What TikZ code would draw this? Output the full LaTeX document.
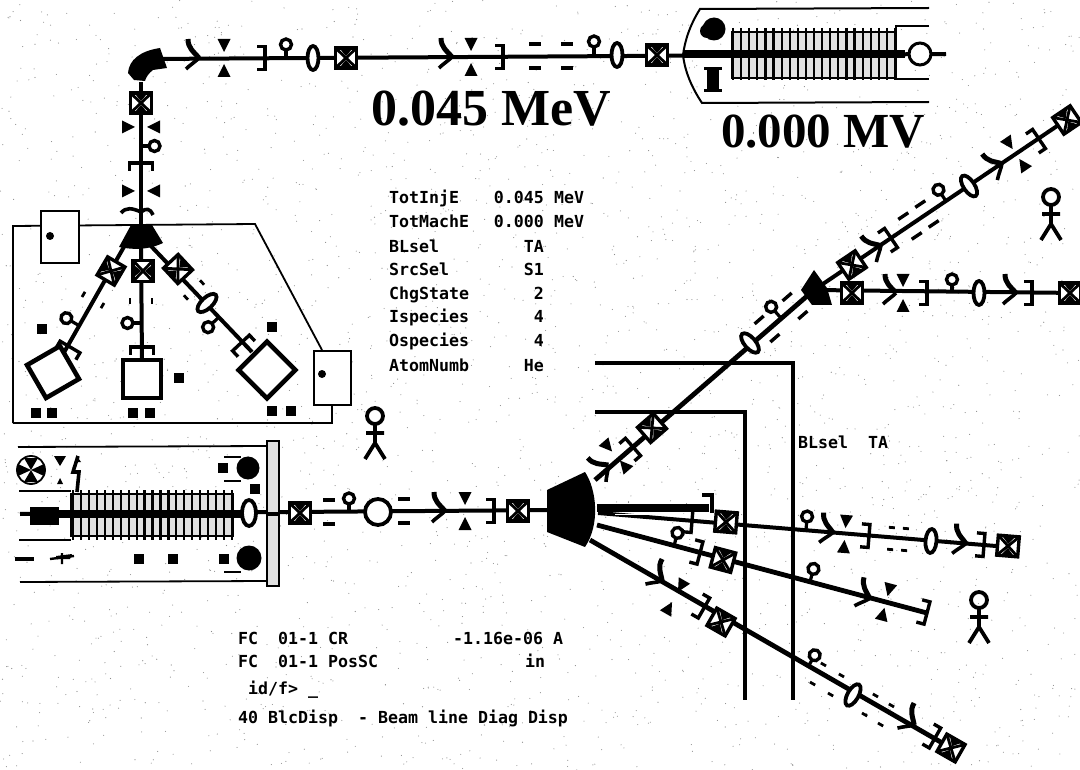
\documentclass[tikz,border=0pt]{standalone}
\usepackage{fontspec}
\setmainfont{Liberation Serif}
\newfontfamily\termfont{DejaVu Sans Mono}
\tikzset{
  beam/.style={line width=4pt},
  wide/.style={line width=4.8pt},
  term/.style={font=\termfont\bfseries\fontsize{16.6}{18}\selectfont,inner sep=0pt},
  big/.style={font=\fontsize{#1}{#1}\selectfont\bfseries,inner sep=0pt},
  pics/xboxp/.style={code={
    \draw[line width=3.4pt,fill=white] (-10.5,-10) rectangle (10.5,10);
    \draw[line width=2.8pt] (-10.5,-10)--(10.5,10) (-10.5,10)--(10.5,-10);
    \fill (-6,-9) -- (6,-9) -- (0,-2) -- cycle;
    \fill (-6,9) -- (6,9) -- (0,2) -- cycle;}},
  pics/lensp/.style={code={
    \draw[line width=3.8pt,fill=white] (0,0) ellipse [x radius=5.5,y radius=12];}},
  pics/fcp/.style={code={
    \draw[line width=3.2pt] (0,0)--(0,-9);
    \draw[line width=3.4pt,fill=white] (0,-13.5) circle [radius=5.5];}},
  pics/slitp/.style={code={
    \draw[line width=3.4pt] (-8,-11.5)--(0,-11.5)--(0,11.5)--(-8,11.5);}},
  pics/steerp/.style={code={
    \draw[line width=5pt] (-5,-19) .. controls (-5,-10) and (0,-7) .. (6,0);
    \draw[line width=3.6pt] (6,0) .. controls (2,4) and (-3,7) .. (-7,11);}},
  pics/trip/.style={code={
    \fill (-6.5,-19)--(6.5,-19)--(0,-6)--cycle;
    \fill (-6.5,19)--(6.5,19)--(0,6)--cycle;}},
  pics/dashp/.style={code={
    \draw[line width=3.4pt] (-6,-12)--(6,-12) (-6,12)--(6,12);}},
  pics/dashq/.style={code={
    \draw[line width=2.8pt] (-3,-11)--(3,-11) (-3,11)--(3,11);}},
  pics/figp/.style={code={
    \draw[line width=3.8pt] (0,0) circle [radius=8];
    \draw[line width=3.8pt] (0,8)--(0,27) (-9,17)--(9,17) (-10,43)--(0,27)--(10,43);}},
  sq/.style={fill=black,minimum size=9.5pt,inner sep=0pt},
  grainy/.style={fill=black!12},
}
\begin{document}
\begin{tikzpicture}[x=1pt,y=-1pt]
\useasboundingbox (0,0) rectangle (1080,770);
\fill[white] (0,0) rectangle (1080,770);
% paper grain
\pgfmathsetseed{11}
\foreach \i in {1,...,2600}{\fill[black!45] ({1080*rnd},{770*rnd}) circle [radius=0.55];}

% ---------- thick lines behind the fan
\coordinate (hA) at (595,363); \coordinate (hB) at (793,363); \coordinate (hC) at (793,700);
\coordinate (iA) at (595,412); \coordinate (iB) at (745,412); \coordinate (iC) at (745,700);
\draw[wide,line join=miter] (hA)--(hB)--(hC);
\draw[wide,line join=miter] (iA)--(iB)--(iC);

% ---------- top beam line
\coordinate (t0) at (150,59); \coordinate (t1) at (946,54);
\draw[beam] (t0)--(t1);
\pic at (193,58) {steerp};
\pic at (224,58) {trip};
\pic at (265,58) {slitp};
\pic at (286,58) {fcp};
\pic at (313,58) {lensp};
\pic at (346,58) {xboxp};
\pic at (446,57) {steerp};
\pic at (471,57) {trip};
\pic at (503,57) {slitp};
\pic at (535,56) {dashp};
\pic at (567,56) {dashp};
\pic at (594,55) {fcp};
\pic at (617,55) {lensp};
\pic at (657,55) {xboxp};

% ---------- top accelerator
\draw[line width=2pt] (929,8)--(700,9) .. controls (690,25) and (685,40) .. (683,55) .. controls (685,72) and (692,88) .. (702,103)--(929,102);
\draw[line width=1.8pt] (929,26)--(896,26)--(896,79)--(929,79);
\draw[line width=2pt,grainy] (732,32) rectangle (895,78);
\foreach \k in {0,...,20}{\draw[line width=2.2pt] ({733+8.1*\k},28)--({733+8.1*\k},80);}
\draw[line width=7.5pt] (683,54)--(905,54);
\fill (714,29) circle [radius=11.5];
\fill (707,31) circle [radius=7];
\draw[line width=3pt,fill=white] (920,54) circle [radius=11];
\fill (704,67) rectangle (722,70);
\fill (707,69) rectangle (719,90);
\fill (704,89) rectangle (722,92);
\node[big=52,anchor=base west] (vmev) at (371,126) {0.045 MeV};
\node[big=49,anchor=base west] (vmv) at (721,148) {0.000 MV};

% ---------- bending magnet and vertical line
\coordinate (bendS) at (141,82);
\coordinate (forkN) at (141,228);
\draw[beam] (bendS)--(forkN);
\fill (128,73) .. controls (129,60) and (140,51) .. (160,48) -- (167,68) -- (153,70) .. controls (149,73) and (146,77) .. (145,81) -- (134,80) -- cycle;
\pic at (141,103) {xboxp};
\pic[rotate=-90] at (141,127) {trip};
\pic[rotate=-90] at (141,146) {fcp};
\pic[rotate=90] at (141,163) {slitp};
\pic[rotate=-90] at (141,191) {trip};
\draw[line width=3.6pt] (121,213) .. controls (126,207) and (132,208) .. (141,212);
\draw[line width=3.6pt] (141,212) .. controls (146,208) and (150,208) .. (153,215);

% ---------- source deck
\draw[line width=1.8pt] (13,423)--(13,226)--(255,224)--(322,350);
\draw[line width=1.8pt] (13,423)--(332,423)--(332,405);
\draw[line width=2.2pt,fill=white] (41,211) rectangle (79,263);
\fill (50,236) circle [radius=4];
\draw[line width=2.2pt,fill=white] (314,351) rectangle (351,405);
\fill (322,374) circle [radius=4];

% branches
\coordinate (lA) at (125,245); \coordinate (lB) at (62,356);
\coordinate (cA) at (141,245); \coordinate (cB) at (142,362);
\coordinate (rA) at (150,245); \coordinate (rB) at (252,352);
\draw[beam] (lA)--(lB);
\draw[beam] (cA)--(cB);
\draw[beam] (rA)--(rB);
\fill (131,225)--(152,225)--(163,243) .. controls (148,250) and (134,250) .. (119,247) --cycle;
\pic[rotate=59.6] at (111,271) {xboxp};
\pic[rotate=90] at (143,271) {xboxp};
\pic[rotate=-47] at (178,269) {xboxp};
\pic[rotate=59.6] at (93,300) {dashq};
\pic[rotate=90] at (141,301) {dashq};
\pic[rotate=-47] at (194,290) {dashq};
\pic[rotate=59.6] at (78,325) {fcp};
\pic[rotate=90] at (141,323) {fcp};
\pic[rotate=133] at (218,318) {fcp};
\pic[rotate=-47] at (207,303) {lensp};
\pic[rotate=59.6] at (70,347) {slitp};
\pic[rotate=90] at (142,347) {slitp};
\pic[rotate=133] at (241,343) {slitp};
\draw[line width=4.6pt,fill=white,rotate around={30:(53,372)}] (34,353) rectangle (72,391);
\draw[line width=3.4pt,fill=white] (123,360) rectangle (161,398);
\draw[line width=4.6pt,fill=white,rotate around={45:(267,370)}] (247,350) rectangle (287,390);
\foreach \p/\q in {42/329,272/327,179/378,36/413,52/413,133/413,150/413,272/411,291/411}{
  \node[sq] at (\p,\q) {};}

% people
\pic at (375,416) {figp};
\pic at (1051,197) {figp};
\pic at (979,600) {figp};

% ---------- parameter table
\foreach \n/\t/\v/\u/\yy in {
 a/TotInjE/0.045/MeV/204,
 b/TotMachE/0.000/MeV/228,
 c/BLsel/TA//253,
 d/SrcSel/S1//276,
 e/ChgState/2//300,
 f/Ispecies/4//323,
 g/Ospecies/4//347,
 h/AtomNumb/He//371}{
  \node[term,anchor=base west] (lab\n) at (389,\yy) {\t};
  \node[term,anchor=base east] (val\n) at (544,\yy) {\v};
  \node[term,anchor=base west] (uni\n) at (554,\yy) {\u};
}
\node[term,anchor=base west] (blsel) at (798,448) {BLsel~~TA};

% ---------- lower-left accelerator
\draw[line width=1.8pt] (18,447)--(268,446);
\draw[line width=1.8pt] (20,582)--(268,581);
\draw[line width=1.6pt] (19,491)--(71,491) (19,540)--(71,540);
\coordinate (b0) at (20,514); \coordinate (b1) at (560,510);
\draw[line width=2pt,grainy] (71,494) rectangle (233,536);
\foreach \k in {0,...,20}{\draw[line width=2.2pt] ({73+7.95*\k},490)--({73+7.95*\k},540);}
\draw[line width=8pt] (30,514)--(250,514);
\draw[beam] (b0)--(b1);
\fill (30,507) rectangle (59,525);
\draw[line width=2.2pt,grainy] (267,441) rectangle (279,586);
\draw[line width=4pt] (267,514)--(279,514);
\draw[line width=3.8pt,fill=white] (249,513) ellipse [x radius=7,y radius=13];
% fan
\draw[line width=1.8pt] (31,470) circle [radius=14];
\fill (31,470)--(24,458)--(38,458)--cycle (31,470)--(24,482)--(38,482)--cycle;
\fill (31,470)--(18,464)--(18,476)--cycle (31,470)--(44,464)--(44,476)--cycle;
\fill (54,456)--(66,456)--(60,466)--cycle;
\fill (57,484)--(63,484)--(60,478)--cycle;
\draw[line width=3.6pt] (78,456)--(73,472)--(79,472)--(77,492);
\fill (76,455)--(81,462)--(76,462)--cycle;
\fill (248,468) circle [radius=11.5];
\fill (249,558) circle [radius=12.5];
\foreach \p/\q in {223/468,255/489,139/559,173/559,224/559}{\node[sq] at (\p,\q) {};}
\draw[line width=1.2pt] (224,457)--(241,457) (224,481)--(241,481) (224,572)--(241,572);
\draw[line width=4pt] (15,559)--(34,559);
\draw[line width=2.4pt] (50,559)--(74,556) (62,553)--(62,564);
\fill (56,556)--(72,554)--(70,559)--(56,559)--cycle;

\pic at (300,513) {xboxp};
\pic at (329,512) {dashp};
\pic at (349,512) {fcp};
\draw[line width=3.8pt,fill=white] (378,512) circle [radius=13];
\pic at (404,511) {dashp};
\pic at (439,511) {steerp};
\pic at (465,511) {trip};
\pic at (494,511) {slitp};
\pic at (518,511) {xboxp};

% ---------- switching magnet and fan of lines
\coordinate (uA) at (595,480); \coordinate (uB) at (814,290);
\coordinate (uC) at (1066,120); \coordinate (uD) at (1078,293);
\coordinate (pA) at (597,508); \coordinate (pB) at (709,508);
\coordinate (qA) at (598,513); \coordinate (qB) at (1008,547);
\coordinate (sA) at (597,525); \coordinate (sB) at (927,613);
\coordinate (wA) at (590,540); \coordinate (wB) at (951,748);
\draw[wide] (uA)--(uB);
\draw[beam] (uB)--(uC);
\draw[beam] (uB)--(uD);
\draw[line width=8pt] (pA)--(pB);
\draw[beam] (qA)--(qB);
\draw[wide] (sA)--(sB);
\draw[wide] (wA)--(wB);
\fill (547,490)--(585,472) .. controls (597,490) and (600,525) .. (585,547) -- (547,532) -- cycle;

% rising line
\pic[rotate=41] at (604,469) {steerp};
\pic[rotate=41] at (616,456) {trip};
\pic[rotate=41] at (633,447) {slitp};
\pic[rotate=41] at (652,428) {xboxp};
\pic[rotate=41] at (750,343) {lensp};
\pic[rotate=41] at (767,329) {dashp};
\pic[rotate=41] at (780,317) {fcp};
\pic[rotate=41] at (795,306) {dashp};

% upper magnet
\fill (814,270)--(801,290)--(812,305)--(832,305)--(827,288)--cycle;

% branch A
\pic[rotate=34] at (852,265) {xboxp};
\pic[rotate=34] at (876,249) {steerp};
\pic[rotate=34] at (891,238) {slitp};
\pic[rotate=34] at (910,226) {dashp};
\pic[rotate=34] at (927,214) {dashp};
\pic[rotate=34] at (946,201) {fcp};
\pic[rotate=34] at (969,186) {lensp};
\pic[rotate=34] at (997,167) {steerp};
\pic[rotate=34] at (1016,154) {trip};
\pic[rotate=34] at (1039,139) {slitp};
\pic[rotate=34] at (1067,120) {xboxp};

% branch B
\pic at (852,293) {xboxp};
\pic at (890,293) {steerp};
\pic at (903,293) {trip};
\pic at (927,293) {slitp};
\pic at (952,293) {fcp};
\pic at (979,293) {lensp};
\pic at (1010,293) {steerp};
\pic at (1032,293) {slitp};
\pic at (1070,293) {xboxp};

% horizontal stub
\draw[line width=3.4pt] (702,495)--(712,495)--(712,513);
\fill[white] (615,513.5) rectangle (700,515);

% beam C
\pic[rotate=-4.7] at (692,521) {slitp};
\pic[rotate=-4.7] at (726,522) {xboxp};
\pic[rotate=-4.7] at (806,530) {fcp};
\pic[rotate=-4.7] at (827,532) {steerp};
\pic[rotate=-4.7] at (845,534) {trip};
\pic[rotate=-4.7] at (869,536) {slitp};
\pic[rotate=-4.7] at (891,538.5) {dashq};
\pic[rotate=-4.7] at (905,539.5) {dashq};
\pic[rotate=-4.7] at (931,541) {lensp};
\pic[rotate=-4.7] at (960,543) {steerp};
\pic[rotate=-4.7] at (984,545) {slitp};
\pic[rotate=-4.7] at (1008,546) {xboxp};

% beam D
\pic[rotate=-14.8] at (674,546) {fcp};
\pic[rotate=-14.8] at (700,553) {slitp};
\pic[rotate=-14.8] at (723,560) {xboxp};
\pic[rotate=-14.8] at (810,582) {fcp};
\pic[rotate=-14.8] at (864,597) {steerp};
\pic[rotate=-14.8] at (886,602) {trip};
\pic[rotate=-14.8] at (927,613) {slitp};

% beam E
\pic[rotate=-29.7] at (657,578) {steerp};
\pic[rotate=-29.7] at (675,597) {trip};
\pic[rotate=-29.7] at (704,608) {slitp};
\pic[rotate=-29.7] at (721,622) {xboxp};
\pic[rotate=-29.7] at (808,667) {fcp};
\pic[rotate=-29.7] at (818,674) {dashq};
\pic[rotate=-29.7] at (836,685) {dashq};
\pic[rotate=-29.7] at (853,695) {lensp};
\pic[rotate=-29.7] at (870,705) {dashq};
\pic[rotate=-29.7] at (886,715) {dashq};
\pic[rotate=-29.7] at (909,722) {steerp};
\pic[rotate=-29.7] at (935,738) {slitp};
\pic[rotate=-29.7] at (951,748) {xboxp};

% ---------- terminal text
\node[term,anchor=base west] (t1a) at (238,644) {FC~~01-1 CR};
\node[term,anchor=base west] (t1b) at (453,644) {-1.16e-06 A};
\node[term,anchor=base west] (t2a) at (238,667) {FC~~01-1 PosSC};
\node[term,anchor=base west] (t2b) at (525,667) {in};
\node[term,anchor=base west] (t3) at (248,694) {id/f> \_};
\node[term,anchor=base west] (t4) at (238,723) {40 BlcDisp~~- Beam line Diag Disp};
\end{tikzpicture}
\end{document}
